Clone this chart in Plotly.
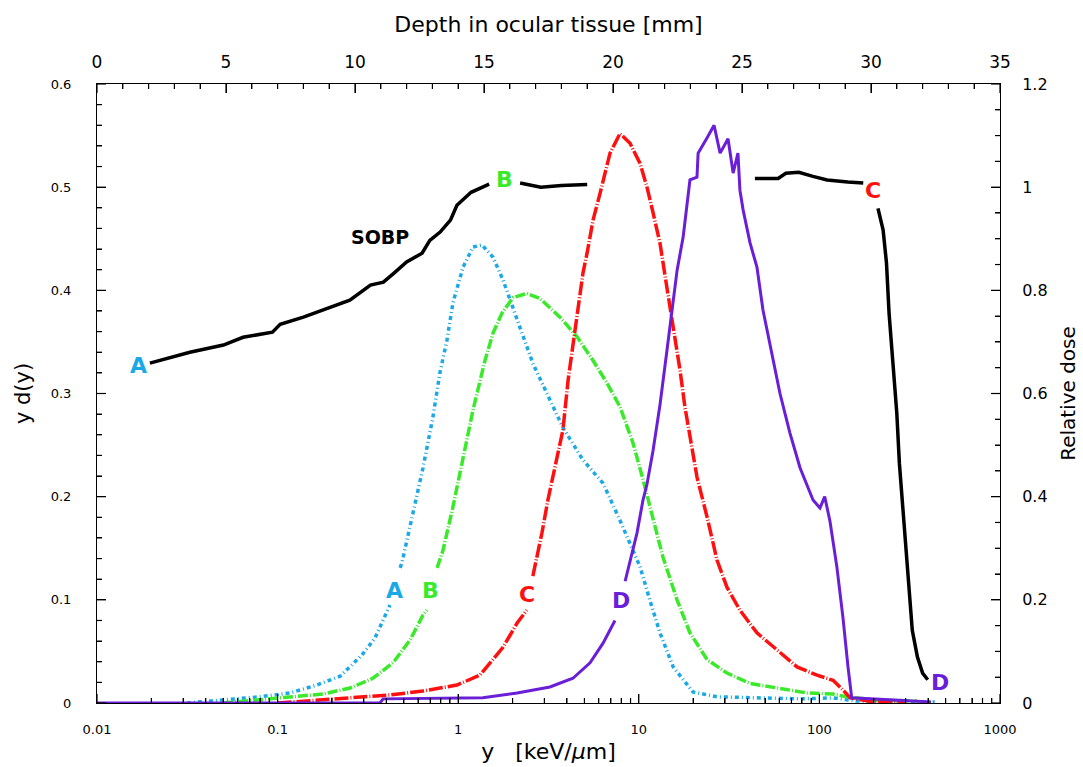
import plotly.graph_objects as go

# ---------------- data ----------------
# Microdosimetric spectra y d(y) vs lineal energy y [keV/um]
A_x = [0.0315, 0.080, 0.117, 0.165, 0.222, 0.293, 0.346, 0.404, 0.419, None, 0.477, 0.489, 0.638, 0.724,
       0.792, 0.867, 0.935, 1.064, 1.208, 1.355, 1.559, 1.771, 2.198, 2.594, 3.10, 3.80, 4.91, 6.34,
       7.87, 10.16, 11.5, 13.1, 15.5, 19.95, 27.1, 41.3, 78.1, 119, 160, 250, 435]
A_y = [0, 0.006, 0.0097, 0.0174, 0.026, 0.0465, 0.063, 0.090, 0.095, None, 0.131, 0.1366, 0.2277, 0.277,
       0.320, 0.352, 0.388, 0.4225, 0.442, 0.444, 0.432, 0.410, 0.364, 0.329, 0.300, 0.267, 0.2355, 0.213,
       0.177, 0.132, 0.100, 0.068, 0.035, 0.0107, 0.006, 0.005, 0.004, 0.005, 0.002, 0.001, 0.001]

B_x = [0.05, 0.117, 0.178, 0.252, 0.337, 0.436, 0.541, 0.638, 0.671, None, 0.764, 0.824, 0.935, 1.064,
       1.208, 1.407, 1.559, 1.749, 2.01, 2.40, 2.84, 3.66, 4.55, 5.58, 6.67, 7.87, 9.29, 10.5, 12.0,
       13.6, 16.3, 19.2, 23.9, 30.8, 41.3, 55.3, 85.3, 119, 142, 200, 347]
B_y = [0, 0.006, 0.0087, 0.0145, 0.024, 0.039, 0.061, 0.085, 0.090, None, 0.131, 0.148, 0.190, 0.2355,
       0.284, 0.332, 0.3585, 0.378, 0.393, 0.397, 0.392, 0.374, 0.355, 0.332, 0.310, 0.287, 0.252, 0.218,
       0.177, 0.1415, 0.0998, 0.068, 0.042, 0.029, 0.019, 0.0155, 0.0097, 0.0087, 0.006, 0.003, 0.002]

C_x = [0.1, 0.252, 0.419, 0.638, 0.984, 1.32, 1.44, 1.77, 2.12, 2.40, None, 2.59, 2.66, 2.91, 3.14,
       3.52, 3.80, 4.06, 4.55, 4.91, 5.17, 5.58, 6.10, 6.93, 7.87, 8.94, 10.16, 11.1, 12.0, 13.1, 14.3,
       15.5, 16.9, 18.0, 18.5, 21.0, 23.9, 27.1, 30.8, 36.3, 45.1, 58.2, 75.2, 97, 119, 135, 148, 200, 300]
C_y = [0, 0.005, 0.0078, 0.0116, 0.0174, 0.027, 0.035, 0.054, 0.0775, 0.090, None, 0.123, 0.132, 0.165,
       0.197, 0.238, 0.2645, 0.313, 0.378, 0.417, 0.436, 0.468, 0.494, 0.533, 0.552, 0.5426, 0.523, 0.500,
       0.475, 0.4457, 0.403, 0.364, 0.323, 0.287, 0.274, 0.219, 0.180, 0.1386, 0.112, 0.090, 0.068, 0.051,
       0.035, 0.027, 0.022, 0.0126, 0.005, 0.001, 0.001]

D_x = [0.01, 0.369, 0.384, 1.37, 2.12, 3.22, 4.32, 5.37, 6.34, 7.38, None, 8.4, 9.77, 10.55, 11.1, 12.0,
       13.1, 14.3, 16.3, 17.6, 19.2, 21.0, 21.3, 23.9, 26.1, 28.2, 31.2, 33.3, 35.4, 36.3, 37.8, 41.3,
       45.1, 48.7, 53.2, 60.5, 68.7, 78.1, 92.2, 100.7, 107, 114.5, 125, 135, 144, 151, 415]
D_y = [0, 0, 0.004, 0.005, 0.0097, 0.0155, 0.024, 0.039, 0.058, 0.080, None, 0.118, 0.1647, 0.1967, 0.212,
       0.245, 0.289, 0.341, 0.4196, 0.4516, 0.507, 0.5097, 0.533, 0.548, 0.560, 0.533, 0.547, 0.5136,
       0.533, 0.4971, 0.478, 0.446, 0.4225, 0.381, 0.349, 0.300, 0.2616, 0.228, 0.1967, 0.189, 0.2,
       0.176, 0.1317, 0.083, 0.035, 0.005, 0.001]

# SOBP: relative dose vs depth in ocular tissue [mm]
SOBP_depth = [2.05, 2.95, 3.6, 4.9, 5.66, 6.8, 7.1, 8.0, 8.76, 9.8, 10.6, 11.1, 11.5, 12.0, 12.6, 12.9,
              13.3, 13.7, 13.95, 14.5, 15.2, None, 16.4, 17.2, 18.0, 19.0, None, 25.5, 26.4, 26.7, 27.2,
              27.75, 28.3, 29.1, 29.7, None, 30.27, 30.47, 30.6, 30.7, 30.85, 31.0, 31.1, 31.24, 31.4,
              31.5, 31.6, 31.8, 32.0, 32.2]
SOBP_dose = [0.659, 0.671, 0.680, 0.694, 0.709, 0.719, 0.734, 0.748, 0.762, 0.781, 0.810, 0.816, 0.833,
             0.855, 0.872, 0.897, 0.913, 0.936, 0.965, 0.990, 1.006, None, 1.008, 1.0, 1.003, 1.005, None,
             1.017, 1.017, 1.027, 1.029, 1.021, 1.014, 1.010, 1.008, None, 0.959, 0.917, 0.853, 0.756,
             0.659, 0.562, 0.465, 0.368, 0.271, 0.205, 0.141, 0.089, 0.058, 0.045]

# tick values
x_ticks = [0.01, 0.1, 1, 10, 100, 1000]
x_ticktext = ["0.01", "0.1", "1", "10", "100", "1000"]
x_minor = [m * 10 ** e for e in range(-2, 3) for m in range(2, 10)]
depth_major = [0, 5, 10, 15, 20, 25, 30, 35]
depth_minor = [d for d in range(1, 35) if d % 5]
ydy_major = [0, 0.1, 0.2, 0.3, 0.4, 0.5, 0.6]
ydy_minor = [k / 50 for k in range(1, 30) if k % 5]
dose_major = [0, 0.2, 0.4, 0.6, 0.8, 1.0, 1.2]
dose_minor = [k / 20 for k in range(1, 24) if k % 4]

CYAN, GREEN, RED, PURPLE = "#1aa9e6", "#3aea2a", "#ff1010", "#6a1ed8"
FONT = "DejaVu Sans"

fig = go.Figure()
fig.add_trace(go.Scatter(x=A_x, y=A_y, mode="lines", name="A",
                         line=dict(color=CYAN, width=3.5, dash="4px,3px,1px,3px")))
fig.add_trace(go.Scatter(x=B_x, y=B_y, mode="lines", name="B",
                         line=dict(color=GREEN, width=3.5, dash="10px,2px,1px,2px")))
fig.add_trace(go.Scatter(x=C_x, y=C_y, mode="lines", name="C",
                         line=dict(color=RED, width=3.5, dash="14px,2px,1px,2px")))
fig.add_trace(go.Scatter(x=D_x, y=D_y, mode="lines", name="D",
                         line=dict(color=PURPLE, width=3)))
fig.add_trace(go.Scatter(x=SOBP_depth, y=SOBP_dose, mode="lines", name="SOBP",
                         xaxis="x2", yaxis="y2", line=dict(color="black", width=3.5)))

base = dict(showline=True, linecolor="black", linewidth=1, ticks="inside", tickcolor="black", ticklen=9,
            zeroline=False, automargin=False)
minor_common = dict(ticks="inside", ticklen=5, tickcolor="black")

fig.update_layout(
    width=1083, height=767,
    margin=dict(l=97, r=83, t=84, b=64),
    paper_bgcolor="white", plot_bgcolor="white",
    showlegend=False,
    font=dict(family=FONT, color="black"),
    xaxis=dict(**base, showgrid=True, gridcolor="rgba(0,0,0,0)",
               type="log", range=[-2, 3], tickmode="array", tickvals=x_ticks, ticktext=x_ticktext,
               tickfont=dict(size=13), ticklabelstandoff=14,
               minor=dict(**minor_common, tickmode="array", tickvals=x_minor),
               title=dict(text="y   [keV/<i>μ</i>m]", font=dict(size=22), standoff=8)),
    xaxis2=dict(**base, showgrid=False, overlaying="x", side="top", range=[0, 35], dtick=5,
                tickfont=dict(size=17), ticklabelstandoff=8,
                minor=dict(**minor_common, dtick=1, showgrid=False),
                title=dict(text="Depth in ocular tissue [mm]", font=dict(size=22), standoff=13)),
    yaxis=dict(**base, showgrid=False, range=[0, 0.6], dtick=0.1,
               tickfont=dict(size=13), ticklabelstandoff=22,
               minor=dict(**minor_common, dtick=0.02, showgrid=False),
               title=dict(text="y d(y)", font=dict(size=21), standoff=14)),
    yaxis2=dict(**base, showgrid=False, overlaying="y", side="right", range=[0, 1.2], dtick=0.2,
                tickfont=dict(size=16), ticklabelstandoff=18,
                minor=dict(**minor_common, dtick=0.05, showgrid=False),
                title=dict(text="Relative dose", font=dict(size=20), standoff=14)),
)

# inside tick marks, placed through the axes' own scales (pixel-length stubs)
TICK = dict(color="black", width=1.2)

def xticks(vals, xref, bottom, length):
    for v in vals:
        fig.add_shape(type="line", xref=xref, yref="paper", x0=v, x1=v,
                      ysizemode="pixel", yanchor=0 if bottom else 1,
                      y0=0, y1=length if bottom else -length, line=TICK, layer="above")

def yticks(vals, yref, left, length):
    for v in vals:
        fig.add_shape(type="line", yref=yref, xref="paper", y0=v, y1=v,
                      xsizemode="pixel", xanchor=0 if left else 1,
                      x0=0, x1=length if left else -length, line=TICK, layer="above")

xticks(x_ticks, "x", True, 9)
xticks(x_minor, "x", True, 5)
xticks(depth_major, "x2", False, 9)
xticks(depth_minor, "x2", False, 5)
yticks(ydy_major, "y", True, 9)
yticks(ydy_minor, "y", True, 5)
yticks(dose_major, "y2", False, 9)
yticks(dose_minor, "y2", False, 5)

def label(text, x, y, color, xref="x", yref="y", size=22):
    fig.add_annotation(text=f"<b>{text}</b>", x=x, y=y, xref=xref, yref=yref, showarrow=False,
                       font=dict(size=size, color=color, family=FONT))

# curve labels (log axis annotations use log10 coordinates)
label("A", -0.35, 0.1095, CYAN)
label("B", -0.156, 0.1095, GREEN)
label("C", 0.381, 0.1056, RED)
label("D", 0.901, 0.0998, PURPLE)
# SOBP labels
label("A", 1.59, 0.655, CYAN, "x2", "y2")
label("B", 15.8, 1.014, GREEN, "x2", "y2")
label("C", 30.08, 0.994, RED, "x2", "y2")
label("D", 32.67, 0.039, PURPLE, "x2", "y2")
label("SOBP", 10.97, 0.903, "black", "x2", "y2", size=19)

fig.write_html("out.html")
